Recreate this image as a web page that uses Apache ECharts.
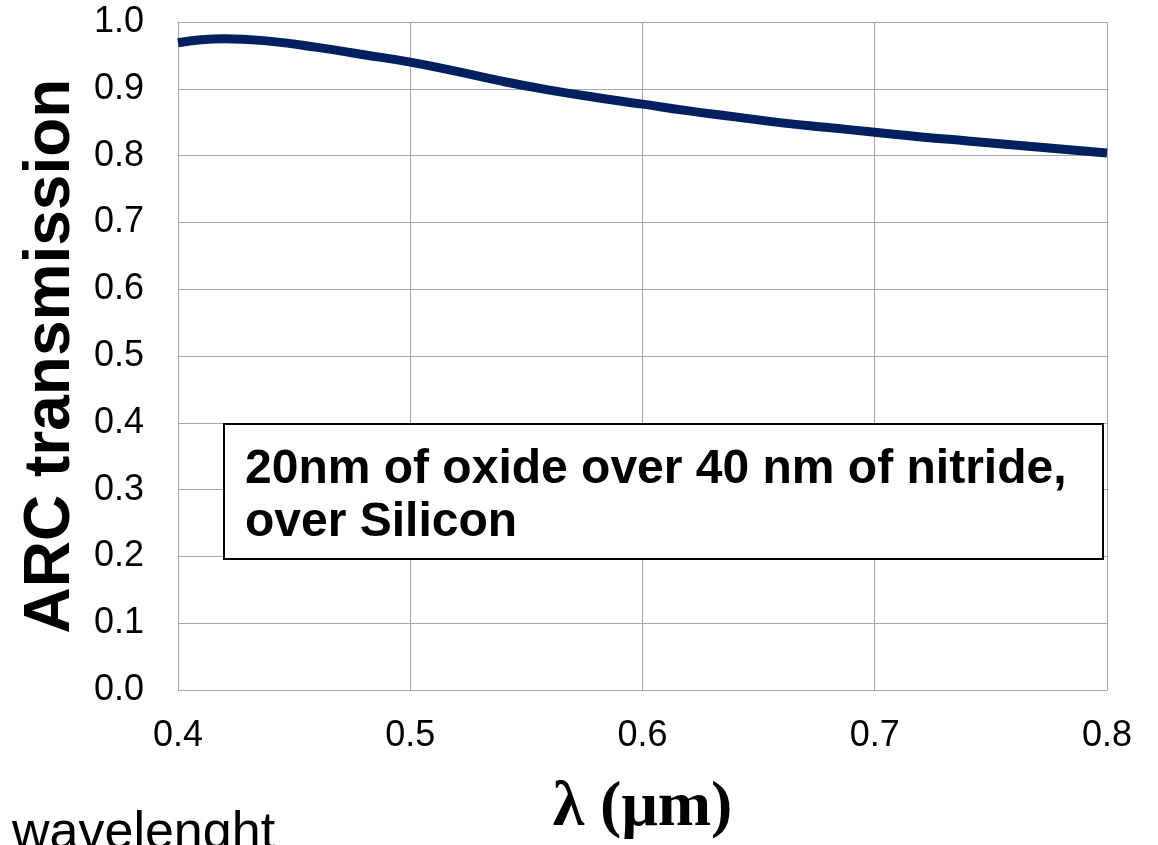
<!DOCTYPE html>
<html>
<head>
<meta charset="utf-8">
<script src="https://cdn.jsdelivr.net/npm/echarts@6/dist/echarts.min.js"></script>
<style>
html,body{margin:0;padding:0;background:#fff;}
#chart{width:1158px;height:845px;}
</style>
</head>
<body>
<div id="chart"></div>
<script>
const wavelengths = [0.40,0.42,0.44,0.46,0.48,0.50,0.52,0.54,0.56,0.58,0.60,0.62,0.64,0.66,0.68,0.70,0.72,0.74,0.76,0.78,0.80];
const transmission = [0.969,0.975,0.971,0.962,0.951,0.940,0.926,0.911,0.898,0.887,0.877,0.867,0.858,0.849,0.842,0.835,0.828,0.822,0.816,0.810,0.804];
const xTitle = 'λ (μm)';
const yTitle = 'ARC transmission';
const noteLines = ['20nm of oxide over 40 nm of nitride,', 'over Silicon'];
const footLabel = 'wavelenght';

const chart = echarts.init(document.getElementById('chart'));
const gridColor = '#a6a6a6';
chart.setOption({
  animation: false,
  backgroundColor: '#ffffff',
  grid: {left: 178, right: 51, top: 22, bottom: 151},
  xAxis: {
    type: 'value', min: 0.4, max: 0.8, interval: 0.1,
    name: xTitle, nameLocation: 'middle', nameGap: 86,
    nameTextStyle: {fontFamily: 'Liberation Serif', fontWeight: 'bold', fontSize: 64, color: '#000'},
    axisLine: {show: true, lineStyle: {color: gridColor, width: 1}},
    axisTick: {show: false},
    axisLabel: {fontFamily: 'Liberation Sans', fontSize: 36, color: '#000', margin: 28,
      formatter: v => v.toFixed(1)},
    splitLine: {show: true, lineStyle: {color: gridColor, width: 1}}
  },
  yAxis: {
    type: 'value', min: 0, max: 1, interval: 0.1,
    name: yTitle, nameLocation: 'middle', nameGap: 95,
    nameTextStyle: {fontFamily: 'Liberation Sans', fontWeight: 'bold', fontSize: 64, color: '#000'},
    axisLine: {show: true, lineStyle: {color: gridColor, width: 1}},
    axisTick: {show: false},
    axisLabel: {fontFamily: 'Liberation Sans', fontSize: 36, color: '#000', margin: 34,
      formatter: v => v.toFixed(1)},
    splitLine: {show: true, lineStyle: {color: gridColor, width: 1}}
  },
  series: [{
    type: 'line',
    data: wavelengths.map((x, i) => [x, transmission[i]]),
    smooth: 0.5,
    showSymbol: false,
    lineStyle: {color: '#002060', width: 9},
    clip: false
  }],
  graphic: [
    {
      type: 'rect', left: 223, top: 423, z: 10,
      shape: {width: 879, height: 135},
      style: {fill: '#ffffff', stroke: '#000000', lineWidth: 2}
    },
    {
      type: 'text', left: 245, top: 443, z: 11,
      style: {text: noteLines.join('\n'), fontFamily: 'Liberation Sans', fontWeight: 'bold',
        fontSize: 48, lineHeight: 53, fill: '#000'}
    },
    {
      type: 'text', left: 12, top: 808, z: 11,
      style: {text: footLabel, fontFamily: 'Liberation Sans', fontSize: 52, fill: '#000'}
    }
  ]
});
</script>
</body>
</html>
